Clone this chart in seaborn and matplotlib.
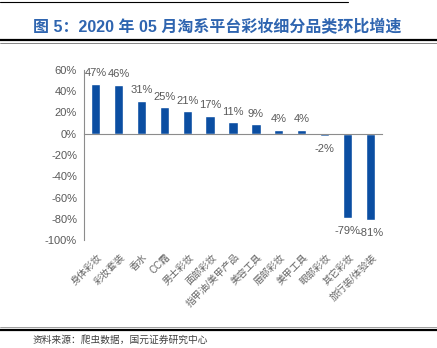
import matplotlib
matplotlib.use("Agg")
import matplotlib.pyplot as plt
import matplotlib.transforms as mtransforms
from matplotlib.lines import Line2D
import seaborn as sns
import pandas as pd

categories = ["身体彩妆", "彩妆套装", "香水", "CC霜", "男士彩妆", "面部彩妆",
              "指甲油/美甲产品", "美容工具", "唇部彩妆", "美甲工具", "眼部彩妆",
              "其它彩妆", "旅行装/体验装"]
growth_pct = [47, 46, 31, 25, 21, 17, 11, 9, 4, 4, -2, -79, -81]
y_ticks = [-100, -80, -60, -40, -20, 0, 20, 40, 60]

title = "图 5：2020 年 05 月淘系平台彩妆细分品类环比增速"
source = "资料来源：爬虫数据，国元证券研究中心"

sns.set_style("white")
plt.rcParams["font.family"] = ["Liberation Sans", "Noto Sans CJK SC", "DejaVu Sans"]

BAR = "#0B4EA2"
AXIS = "#8C8C8C"
TEXT = "#595959"

df = pd.DataFrame({"cat": categories, "val": growth_pct})

fig = plt.figure(figsize=(4.37, 3.48), dpi=100)
ax = fig.add_axes([84 / 437, 1 - 240 / 348, (382 - 84) / 437, (240 - 70) / 348])

sns.barplot(data=df, x="cat", y="val", color=BAR, width=0.4, saturation=1,
            ax=ax, order=categories)

ax.set_xlim(-0.5, len(categories) - 0.5)
ax.set_ylim(-100, 60)
ax.set_yticks(y_ticks)
ax.set_yticklabels([f"{t}%" for t in y_ticks], fontsize=8, color=TEXT)
ax.set_xlabel("")
ax.set_ylabel("")

for s in ["top", "right"]:
    ax.spines[s].set_visible(False)
ax.spines["left"].set_color(AXIS)
ax.spines["left"].set_linewidth(0.8)
ax.spines["bottom"].set_position(("data", 0))
ax.spines["bottom"].set_color(AXIS)
ax.spines["bottom"].set_linewidth(0.8)

ax.tick_params(axis="y", direction="out", length=3, width=0.8, color=AXIS, pad=2)
ax.set_xticks([i + 0.5 for i in range(-1, len(categories))])
ax.set_xticklabels([])
ax.tick_params(axis="x", direction="out", length=3, width=0.8, color=AXIS)

# category labels sit below the plot area, rotated
trans = mtransforms.blended_transform_factory(ax.transData, ax.transAxes)
for i, c in enumerate(categories):
    ax.text(i + 0.05, -0.07, c, transform=trans, rotation=45, rotation_mode="anchor",
            ha="right", va="top", fontsize=7, color="#666666")

# value labels
for i, v in enumerate(growth_pct):
    if v >= 0:
        ax.annotate(f"{v}%", (i, v), xytext=(0, 4), textcoords="offset points",
                    ha="center", va="bottom", fontsize=8, color=TEXT)
    else:
        ax.annotate(f"{v}%", (i, v), xytext=(0, -6), textcoords="offset points",
                    ha="center", va="top", fontsize=8, color=TEXT)

# title and source
fig.text(33 / 437, 1 - 27 / 348, title, ha="left", va="center", fontsize=11.5,
         fontweight="bold", color="#2F65B0")
fig.text(33 / 437, 1 - 340 / 348, source, ha="left", va="center", fontsize=7,
         color="#404040")

# rules
fig.add_artist(Line2D([0, 348 / 437], [1 - 1.5 / 348] * 2, color="black", lw=0.8,
                      transform=fig.transFigure))
fig.add_artist(Line2D([0, 1], [1 - 40 / 348] * 2, color="black", lw=1.6,
                      transform=fig.transFigure))
fig.add_artist(Line2D([0, 1], [1 - 42.5 / 348] * 2, color="#555555", lw=0.5,
                      transform=fig.transFigure))
fig.add_artist(Line2D([0, 1], [1 - 327 / 348] * 2, color="#777777", lw=0.5,
                      transform=fig.transFigure))
fig.add_artist(Line2D([0, 1], [1 - 329.5 / 348] * 2, color="black", lw=1.6,
                      transform=fig.transFigure))

fig.savefig("out.png", dpi=100)
